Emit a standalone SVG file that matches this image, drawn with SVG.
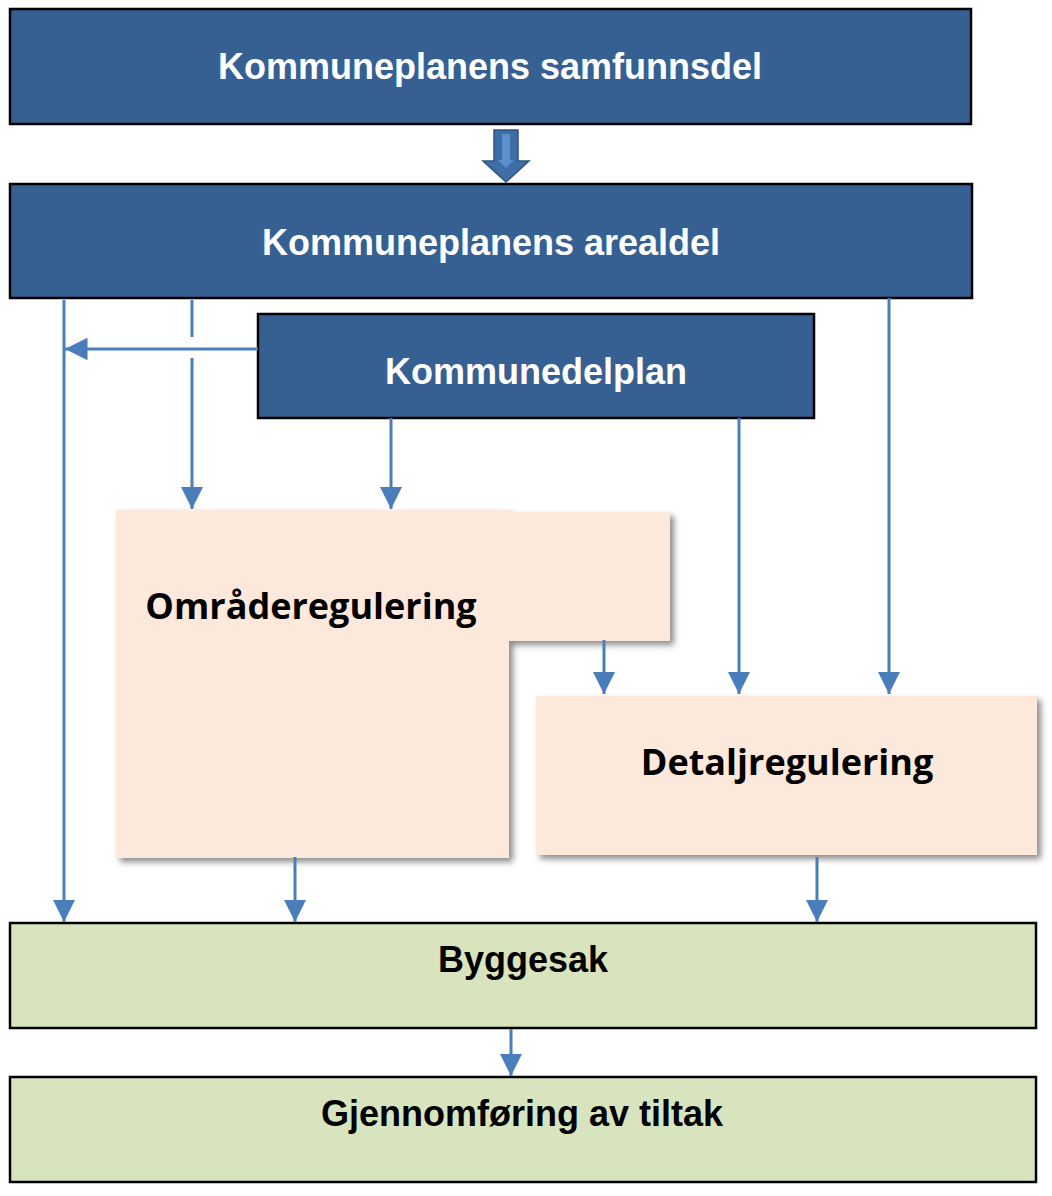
<svg xmlns="http://www.w3.org/2000/svg" width="1052" height="1196" viewBox="0 0 1052 1196">
<style>
.blue{fill:#366092;stroke:#000;stroke-width:2.5}
.green{fill:#D7E4BD;stroke:#000;stroke-width:2.5}
.peach{fill:#FDE9DB}
.wt{font-family:"Liberation Sans",Arial,sans-serif;font-weight:bold;font-size:36px;fill:#fff;text-anchor:middle}
.bt{font-family:"Liberation Sans",Arial,sans-serif;font-weight:bold;font-size:36px;fill:#000;text-anchor:middle}
.ct{font-family:"Open Sans","Noto Sans",sans-serif;font-weight:bold;font-size:36px;fill:#000;text-anchor:middle}
.ln{stroke:#4A7EBB;stroke-width:3;fill:none}
</style>
<defs>
<filter id="sh" x="-10%" y="-10%" width="130%" height="130%">
<feDropShadow dx="4" dy="4" stdDeviation="3" flood-color="#000" flood-opacity="0.45"/>
</filter>
<marker id="ah" viewBox="0 0 10 10" refX="10" refY="5" markerWidth="7.5" markerHeight="7.5" markerUnits="strokeWidth" orient="auto">
<path d="M0,0 L10,5 L0,10 Z" fill="#4A7EBB"/>
</marker>
</defs>
<g id="node-samfunnsdel">
<rect class="blue" x="10" y="9" width="961" height="115"/>
<text class="wt" x="490" y="79">Kommuneplanens samfunnsdel</text>
</g>
<g id="node-arealdel">
<rect class="blue" x="10" y="184" width="962" height="114"/>
<text class="wt" x="491" y="255">Kommuneplanens arealdel</text>
</g>
<g id="node-kommunedelplan">
<rect class="blue" x="258" y="314" width="556" height="104"/>
<text class="wt" x="536" y="384">Kommunedelplan</text>
</g>
<g id="node-omraderegulering">
<path class="peach" filter="url(#sh)" d="M116,510 H509 V512 H670 V641 H509 V858 H116 Z"/>
<text class="ct" x="311" y="619">Områderegulering</text>
</g>
<g id="node-detaljregulering">
<rect class="peach" filter="url(#sh)" x="536" y="696" width="501" height="159"/>
<text class="ct" x="787" y="775">Detaljregulering</text>
</g>
<g id="node-byggesak">
<rect class="green" x="10" y="923" width="1026" height="105"/>
<text class="bt" x="523" y="972">Byggesak</text>
</g>
<g id="node-gjennomforing">
<rect class="green" x="10" y="1077" width="1026" height="105"/>
<text class="bt" x="522" y="1126">Gjennomføring av tiltak</text>
</g>
<g id="connectors">
<path d="M494,130 H518 V161 H529 L506,182 L483,161 H494 Z" fill="#3F6DA6" stroke="#2F5585" stroke-width="1.5"/>
<path d="M502,134 H510 V160 H514 L506,168 L498,160 H502 Z" fill="#5B8FD0"/>
<line class="ln" x1="64" y1="300" x2="64" y2="922" marker-end="url(#ah)"/>
<line class="ln" x1="258" y1="349" x2="65" y2="349" marker-end="url(#ah)"/>
<line class="ln" x1="192" y1="300" x2="192" y2="337"/>
<line class="ln" x1="192" y1="358" x2="192" y2="509" marker-end="url(#ah)"/>
<line class="ln" x1="391" y1="418" x2="391" y2="509" marker-end="url(#ah)"/>
<line class="ln" x1="739" y1="418" x2="739" y2="694" marker-end="url(#ah)"/>
<line class="ln" x1="889" y1="298" x2="889" y2="694" marker-end="url(#ah)"/>
<line class="ln" x1="604" y1="640" x2="604" y2="694" marker-end="url(#ah)"/>
<line class="ln" x1="295" y1="857" x2="295" y2="922" marker-end="url(#ah)"/>
<line class="ln" x1="817" y1="857" x2="817" y2="922" marker-end="url(#ah)"/>
<line class="ln" x1="511" y1="1029" x2="511" y2="1076" marker-end="url(#ah)"/>
</g>
</svg>
